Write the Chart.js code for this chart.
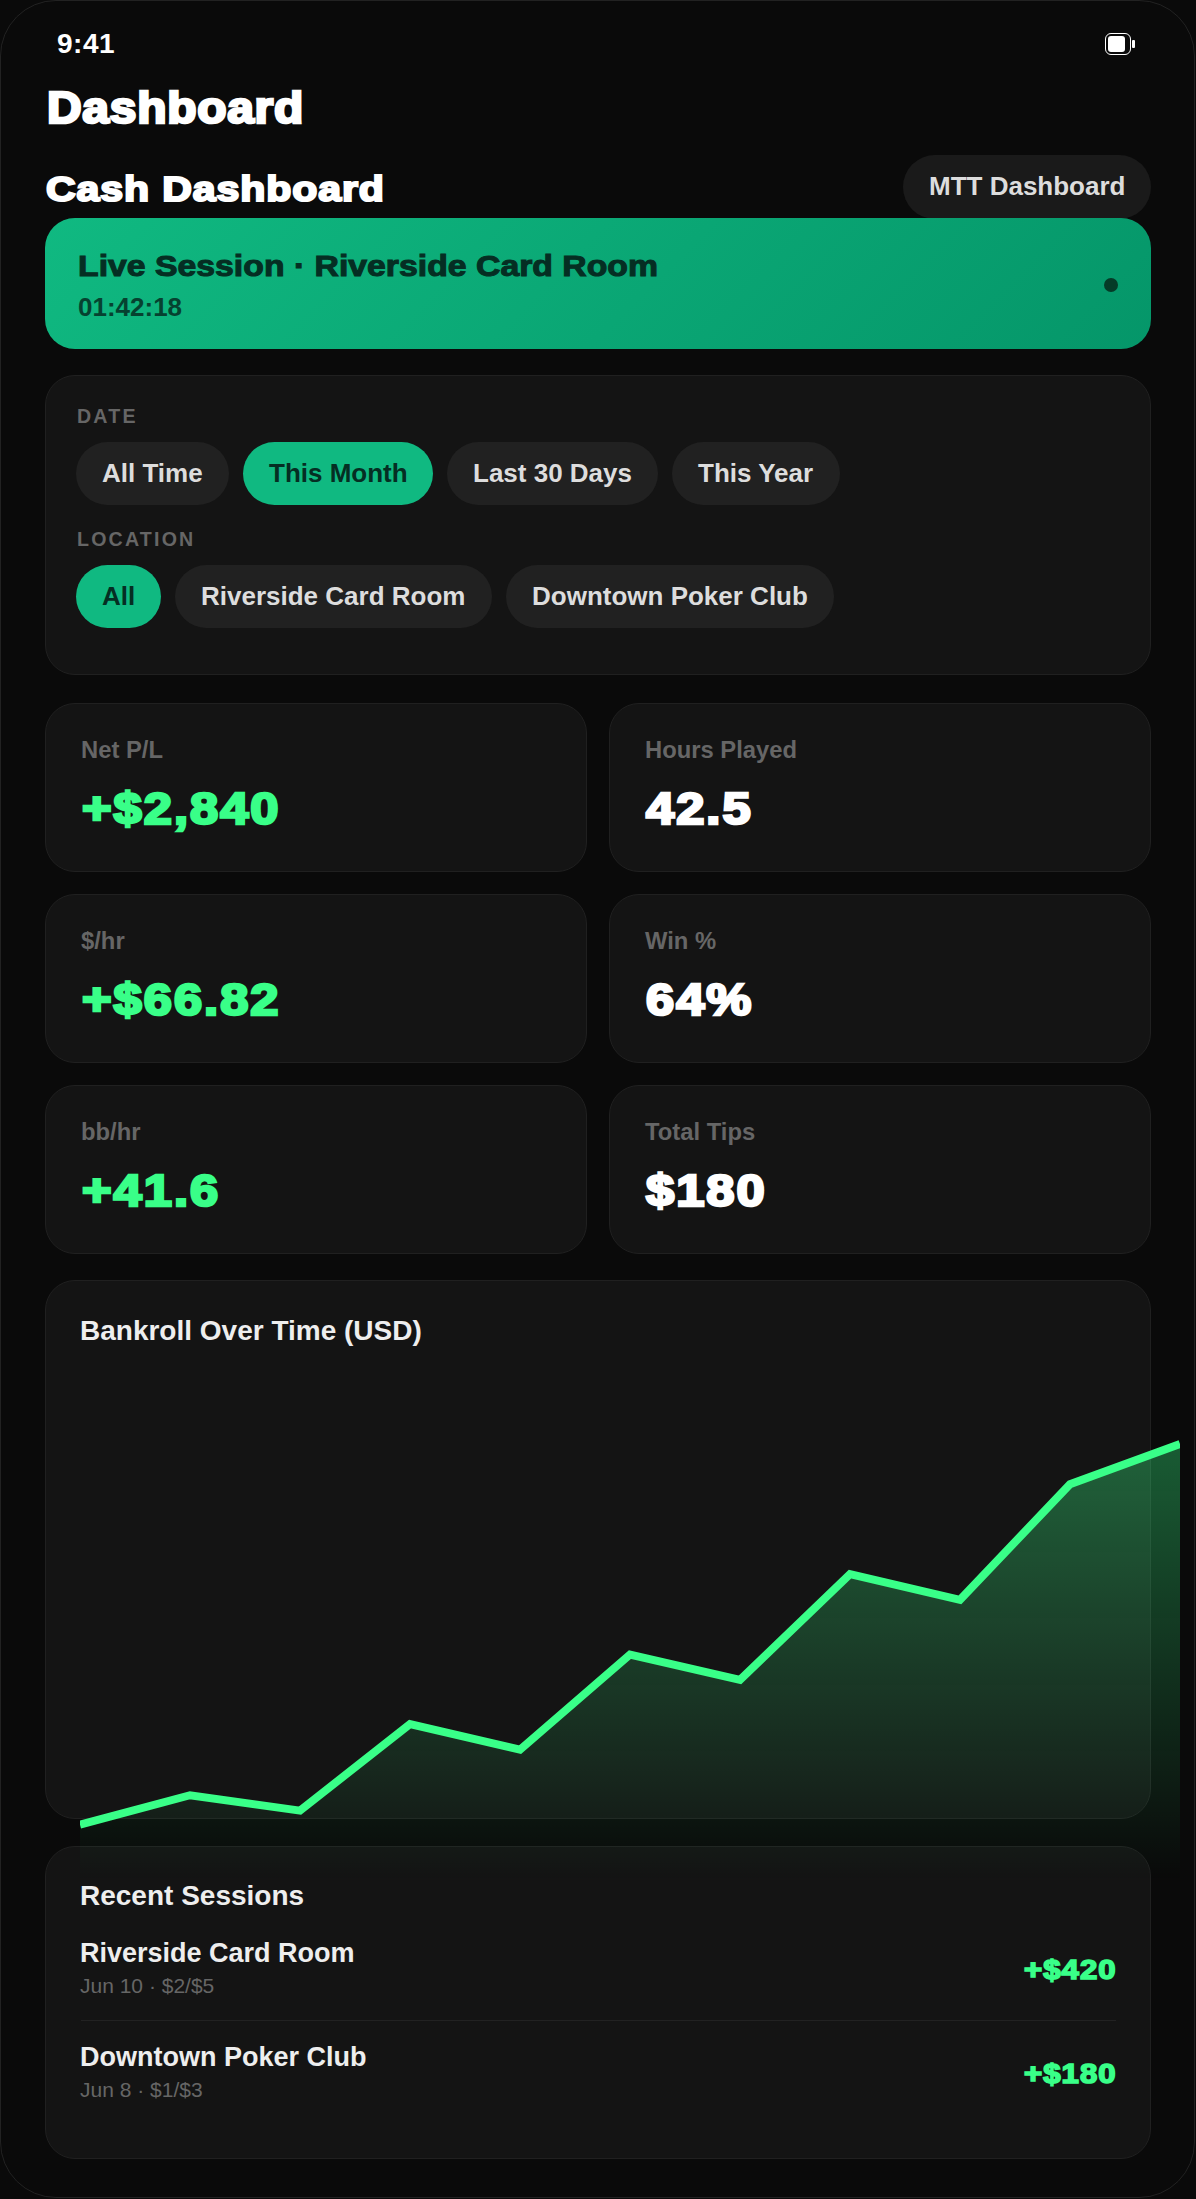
<!DOCTYPE html>
<html><head><meta charset="utf-8"><title>Dashboard</title>
<script src="https://cdn.jsdelivr.net/npm/chart.js@4"></script>
<style>
html,body{margin:0;padding:0;background:#0a0a0a;width:1196px;height:2199px;overflow:hidden;font-family:"Liberation Sans",Arial,sans-serif}
#frame{position:absolute;left:0;top:0;width:1193px;height:2196px;border:1.5px solid #222;border-radius:56px;background:#0a0a0a}
.b{position:absolute;box-sizing:border-box}
.card{background:#141414;border:1.4px solid #202020;border-radius:30px}
.chip{background:#212121;border-radius:32px}
.on{background:#10b981}
.t{position:absolute;line-height:0;white-space:nowrap;top:calc(var(--b)*1px - var(--f)*.3465px);font-size:calc(var(--f)*1px);font-weight:700}
.h{-webkit-text-stroke:.06em currentColor;transform:scaleX(var(--s));transform-origin:left center;letter-spacing:calc(var(--l,0)*1em)}
.v{--f:44;--s:1.15;--l:.04}
.r{transform-origin:right center}
.g{color:#39ff88}.w{color:#fff}.l{color:#666}.c{color:#ddd}.e{color:#eee}.k{color:#052e23}
canvas{position:absolute;left:80px;top:1361px;z-index:5}
</style></head><body>
<div id="frame"></div>
<span class="t w" style="--b:54;--f:28;left:57px;letter-spacing:.5px">9:41</span>
<div class="b" style="left:1105px;top:33px;width:26px;height:22px;border:1.4px solid #fff;border-radius:6px"></div>
<div class="b" style="left:1108px;top:36px;width:17px;height:16px;background:#fff;border-radius:3px"></div>
<div class="b" style="left:1132px;top:40px;width:3px;height:8px;background:#fff;border-radius:1px"></div>
<span class="t w h" style="--b:123.5;--f:43.6;--s:1.1;--l:.015;left:46.5px">Dashboard</span>
<span class="t w h" style="--b:201;--f:35.7;--s:1.15;--l:.022;left:45.5px">Cash Dashboard</span>
<div class="b" style="left:903px;top:155px;width:248px;height:64px;background:#1a1a1a;border-radius:32px"></div>
<span class="t c" style="--b:195;--f:26;left:929px">MTT Dashboard</span>
<div class="b" style="left:45px;top:218px;width:1106px;height:131px;border-radius:30px;background:linear-gradient(135deg,#10b981,#059669)"></div>
<span class="t k h" style="--b:276.5;--f:29.5;--s:1.145;left:77.5px;-webkit-text-stroke-width:.035em">Live Session · Riverside Card Room</span>
<span class="t k" style="--b:316;--f:26;left:78px;opacity:.85">01:42:18</span>
<div class="b" style="left:1104px;top:278px;width:14px;height:14px;border-radius:50%;background:#053b27"></div>

<div class="b card" style="left:45px;top:375px;width:1106px;height:300px"></div>
<span class="t l" style="--b:423;--f:19.6;left:77px;letter-spacing:2.2px">DATE</span>
<div class="b chip" style="left:76px;top:442px;width:153px;height:63px"></div><span class="t c" style="--b:482;--f:26;left:102px">All Time</span>
<div class="b chip on" style="left:243px;top:442px;width:190px;height:63px"></div><span class="t k" style="--b:482;--f:26;left:269px">This Month</span>
<div class="b chip" style="left:447px;top:442px;width:211px;height:63px"></div><span class="t c" style="--b:482;--f:26;left:473px">Last 30 Days</span>
<div class="b chip" style="left:672px;top:442px;width:168px;height:63px"></div><span class="t c" style="--b:482;--f:26;left:698px">This Year</span>
<span class="t l" style="--b:546;--f:19.6;left:77px;letter-spacing:2.2px">LOCATION</span>
<div class="b chip on" style="left:76px;top:565px;width:85px;height:63px"></div><span class="t k" style="--b:605;--f:26;left:102px">All</span>
<div class="b chip" style="left:175px;top:565px;width:317px;height:63px"></div><span class="t c" style="--b:605;--f:26;left:201px">Riverside Card Room</span>
<div class="b chip" style="left:506px;top:565px;width:328px;height:63px"></div><span class="t c" style="--b:605;--f:26;left:532px">Downtown Poker Club</span>

<div class="b card" style="left:45px;top:703px;width:542px;height:169px"></div>
<div class="b card" style="left:609px;top:703px;width:542px;height:169px"></div>
<div class="b card" style="left:45px;top:894px;width:542px;height:169px"></div>
<div class="b card" style="left:609px;top:894px;width:542px;height:169px"></div>
<div class="b card" style="left:45px;top:1085px;width:542px;height:169px"></div>
<div class="b card" style="left:609px;top:1085px;width:542px;height:169px"></div>
<span class="t l" style="--b:758;--f:23.8;left:81px">Net P/L</span><span class="t g h v" style="--b:824;left:81.5px">+$2,840</span>
<span class="t l" style="--b:758;--f:23.8;left:645px">Hours Played</span><span class="t w h v" style="--b:824;left:645.5px">42.5</span>
<span class="t l" style="--b:949;--f:23.8;left:81px">$/hr</span><span class="t g h v" style="--b:1015;left:81.5px">+$66.82</span>
<span class="t l" style="--b:949;--f:23.8;left:645px">Win %</span><span class="t w h v" style="--b:1015;left:645.5px">64%</span>
<span class="t l" style="--b:1140;--f:23.8;left:81px">bb/hr</span><span class="t g h v" style="--b:1206;left:81.5px">+41.6</span>
<span class="t l" style="--b:1140;--f:23.8;left:645px">Total Tips</span><span class="t w h v" style="--b:1206;left:645.5px">$180</span>

<div class="b card" style="left:45px;top:1280px;width:1106px;height:539px"></div>
<span class="t e" style="--b:1340.5;--f:28;left:80px">Bankroll Over Time (USD)</span>

<div class="b card" style="left:45px;top:1846px;width:1106px;height:313px"></div>
<span class="t e" style="--b:1906;--f:28;left:80px">Recent Sessions</span>
<span class="t e" style="--b:1962;--f:27;left:80px">Riverside Card Room</span>
<span class="t l" style="--b:1993;--f:21;left:80px;font-weight:400">Jun 10 · $2/$5</span>
<span class="t g h r" style="--b:1979.5;--f:27;--s:1.15;--l:.036;right:79px">+$420</span>
<div class="b" style="left:81px;top:2020px;width:1035px;height:1px;background:#222"></div>
<span class="t e" style="--b:2066;--f:27;left:80px">Downtown Poker Club</span>
<span class="t l" style="--b:2097;--f:21;left:80px;font-weight:400">Jun 8 · $1/$3</span>
<span class="t g h r" style="--b:2083.5;--f:27;--s:1.15;--l:.036;right:79px">+$180</span>

<canvas id="c" width="1100" height="520"></canvas>
<script>
const sessions = ['S1','S2','S3','S4','S5','S6','S7','S8','S9','S10','S11'];
const bankroll = [0,220,105,750,560,1270,1080,1870,1678,2540,2840];
const yMin = -420, yMax = 3460;
new Chart(document.getElementById('c'),{
  type:'line',
  data:{labels:sessions,datasets:[{
    data:bankroll,
    borderColor:'#39ff88',borderWidth:8,pointRadius:0,tension:0,fill:'start',
    backgroundColor(ctx){
      const a=ctx.chart.chartArea; if(!a) return 'transparent';
      const g=ctx.chart.ctx.createLinearGradient(0,a.top,0,a.bottom);
      g.addColorStop(0,'rgba(57,255,136,0.4)');
      g.addColorStop(1,'rgba(57,255,136,0)');
      return g;
    }
  }]},
  options:{responsive:false,devicePixelRatio:1,animation:false,
    layout:{padding:0},
    plugins:{legend:{display:false},tooltip:{enabled:false}},
    scales:{x:{display:false},y:{display:false,min:yMin,max:yMax}}}
});
</script>
</body></html>
